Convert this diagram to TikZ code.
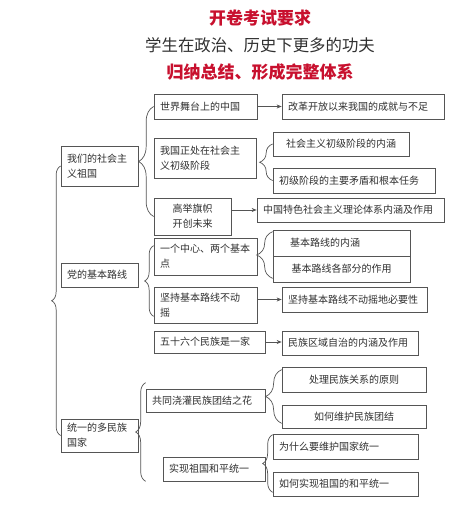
\documentclass[tikz,border=0pt]{standalone}
\usepackage{fontspec}
\setmainfont{Noto Sans CJK SC}
\usepackage{xcolor}
\definecolor{cr}{HTML}{C8102E}
\definecolor{cl}{HTML}{555555}
\definecolor{ct}{HTML}{303030}
\usepackage{tikz}
\usetikzlibrary{arrows.meta,positioning,calc,decorations.pathreplacing}

\begin{document}
\begin{tikzpicture}[
  x=1pt, y=-1pt, >=Stealth,
  box/.style={draw=cl, line width=0.7pt, fill=white, inner xsep=6pt, inner ysep=2pt, align=left, text=ct, font=\fontsize{10}{15}\selectfont},
  cbox/.style={box, align=center},
  title/.style={text=cr, font=\fontsize{17}{20}\selectfont\bfseries},
  subtitle/.style={text=ct, font=\fontsize{16.4}{20}\selectfont},
  link/.style={-{Stealth[length=5pt,width=4pt]}, draw=cl, line width=0.7pt},
  brc/.style={draw=cl, line width=0.7pt, decorate, decoration={brace, amplitude=#1}},
  brc/.default=12,
]
  \fill[white] (0,0) rectangle (465,506);
  \useasboundingbox (0,0) rectangle (465,506);

  \node[title] (head) at (260,18) {开卷考试要求};
  \node[subtitle] (sub) at (260,45) {学生在政治、历史下更多的功夫};
  \node[title] (goal) at (260,72) {归纳总结、形成完整体系};

  \node[box, text width=65pt, minimum height=40pt] (zuguo) at (99.5,166) {我们的社会主\\义祖国};
  \node[box, text width=65pt, minimum height=24pt] (luxian) at (99.5,275) {党的基本路线};
  \node[box, text width=65pt, minimum height=33pt] (tongyi) at (99.5,435.5) {统一的多民族\\国家};

  \node[box, text width=91pt, minimum height=25pt] (shijie) at (205.5,106.5) {世界舞台上的中国};
  \node[box, text width=90pt, minimum height=40pt] (jieduan) at (205,158) {我国正处在社会主\\义初级阶段};
  \node[cbox, text width=65pt, minimum height=37pt] (qizhi) at (192.5,216.5) {高举旗帜\\开创未来};
  \node[box, text width=91pt, minimum height=37pt] (zhongxin) at (205.5,256.5) {一个中心、两个基本\\点};
  \node[box, text width=91pt, minimum height=36pt] (jianchi) at (205.5,305) {坚持基本路线不动\\摇};
  \node[box, text width=99pt, minimum height=22pt] (minzu) at (209.5,342) {五十六个民族是一家};
  \node[box, text width=107pt, minimum height=23pt] (jiaoguan) at (205.5,400.5) {共同浇灌民族团结之花};
  \node[box, text width=90pt, minimum height=24pt] (shixian) at (214,469) {实现祖国和平统一};

  \node[box, text width=150pt, minimum height=25pt] (chengjiu) at (363,106.5) {改革开放以来我国的成就与不足};
  \node[cbox, text width=124pt, minimum height=24pt] (neihan1) at (341,144) {社会主义初级阶段的内涵};
  \node[box, text width=150pt, minimum height=25pt] (renwu) at (354,180.5) {初级阶段的主要矛盾和根本任务};
  \node[box, text width=175pt, minimum height=24pt] (lilun) at (350.5,210) {中国特色社会主义理论体系内涵及作用};
  \node[box, text width=125pt, minimum height=26pt] (neihan2) at (341.5,243) {\hspace*{11pt}基本路线的内涵};
  \node[cbox, text width=125pt, minimum height=26pt] (zuoyong) at (341.5,269) {基本路线各部分的作用};
  \node[box, text width=133pt, minimum height=25pt] (biyao) at (354.5,299.5) {坚持基本路线不动摇地必要性};
  \node[box, text width=124pt, minimum height=24pt] (zizhi) at (350,343) {民族区域自治的内涵及作用};
  \node[cbox, text width=132pt, minimum height=25pt] (yuanze) at (354,379.5) {处理民族关系的原则};
  \node[cbox, text width=132pt, minimum height=23pt] (tuanjie) at (354,416.5) {如何维护民族团结};
  \node[box, text width=133pt, minimum height=25pt] (weihu) at (345.5,446.5) {为什么要维护国家统一};
  \node[box, text width=133pt, minimum height=24pt] (heping) at (345.5,484) {如何实现祖国的和平统一};

  \draw[brc=9] (tongyi.west) -- (zuguo.west);
  \draw[brc=15] (qizhi.west) -- (shijie.west);
  \draw[brc=13] (renwu.west) -- (neihan1.west);
  \draw[brc=16] ([yshift=4pt]zuoyong.south west) -- ([yshift=-2pt]neihan2.north west);
  \draw[brc=9] ([yshift=7pt]jianchi.south west) -- ([yshift=-8pt]zhongxin.north west);
  \draw[brc=10] (jiaoguan.west |- shixian.south) -- ([yshift=6pt]jiaoguan.north west);
  \draw[brc=16] ([yshift=5pt]tuanjie.south west) -- ([yshift=-3pt]yuanze.north west);
  \draw[brc=10] ([yshift=4pt]heping.south west) -- ([yshift=-1pt]weihu.north west);

  \draw[link] (shijie) -- (chengjiu);
  \draw[link] (qizhi.east |- lilun) -- (lilun);
  \draw[link] (jianchi.east |- biyao) -- (biyao);
  \draw[link] (minzu.east) -- (zizhi.west |- minzu.east);
\end{tikzpicture}
\end{document}
